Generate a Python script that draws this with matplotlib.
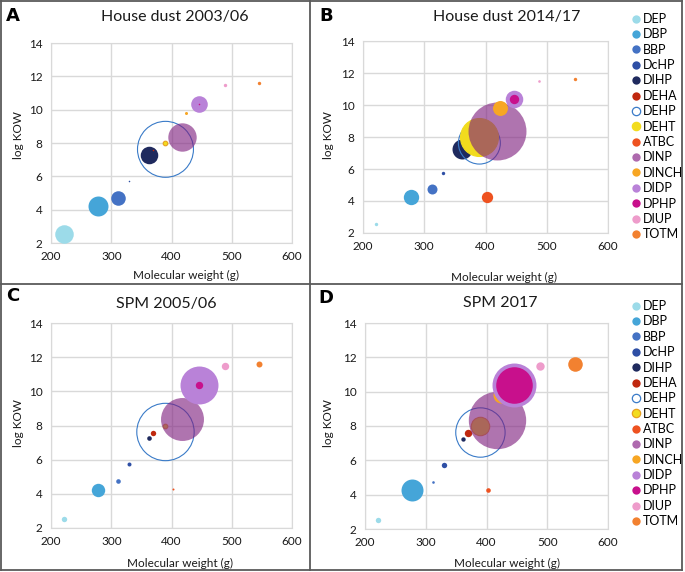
import numpy as np
import matplotlib
matplotlib.use('Agg')
import matplotlib.pyplot as plt
from matplotlib.lines import Line2D

plt.rcParams['font.family'] = ['Lato', 'DejaVu Sans']

# compounds, molecular weight (g) and log KOW
names = ['DEP', 'DBP', 'BBP', 'DcHP', 'DIHP', 'DEHA', 'DEHP', 'DEHT',
         'ATBC', 'DINP', 'DINCH', 'DIDP', 'DPHP', 'DIUP', 'TOTM']
mw = [222, 278, 312, 330, 362, 370, 390, 390, 402, 418, 424, 446, 446, 488, 546]
logkow = [2.54, 4.25, 4.73, 5.73, 7.27, 7.58, 7.62, 7.98, 4.27, 8.37, 9.8,
          10.36, 10.36, 11.5, 11.6]

# relative concentrations (bubble size values) per panel
conc_dust_0306 = [86, 100, 53, 0.6, 77, 0.6, 784, 5.3, 0, 202, 2.3, 69, 0.6, 2.9, 2.9]
conc_dust_1417 = [2.9, 59, 25, 2.9, 100, 0.6, 441, 361, 32, 841, 56, 77, 22, 1.7, 2.9]
conc_spm_0506 = [7.3, 45, 5.3, 4, 5.3, 7.3, 824, 5.3, 1, 462, 1.7, 361, 13.7, 13.7, 9]
conc_spm_2017 = [7.3, 121, 1.7, 7.3, 4.8, 13.7, 610, 85, 5.3, 824, 64, 484, 335, 17.6, 53]

colors = ['#9cdbe9', '#45a5d8', '#4472c4', '#2e4fa5', '#1f2a5e', '#c0280f',
          '#3a7bc8', '#f2dc1e', '#ee5220', '#7f1f7f', '#f7a623', '#b982d8',
          '#c8108c', '#ee9ccb', '#f28130']
dinp_legend = '#ae6aae'

W, H = 685, 572
fig = plt.figure(figsize=(W / 100, H / 100), dpi=100)


def fbox(l, t, r, b):
    return [l / W, 1 - b / H, (r - l) / W, (b - t) / H]


def panel(box, conc, title, tpos, letter, lpos, xlpos, ylpos, deht_edge):
    ax = fig.add_axes(fbox(*box))
    for i in range(len(names)):
        s = conc[i] * 2.07
        if names[i] == 'DEHP':
            ax.scatter(mw[i], logkow[i], s=s, facecolors='none',
                       edgecolors=colors[i], linewidths=0.8, zorder=3)
        elif names[i] == 'DEHT':
            ax.scatter(mw[i], logkow[i], s=s, color=colors[i],
                       edgecolors=deht_edge, linewidths=0.8, zorder=3)
        elif names[i] == 'DINP':
            ax.scatter(mw[i], logkow[i], s=s, color=colors[i], alpha=0.62,
                       linewidths=0, zorder=3)
        else:
            ax.scatter(mw[i], logkow[i], s=s, color=colors[i],
                       linewidths=0, zorder=3)
    ax.set_xlim(200, 600)
    ax.set_ylim(2, 14)
    ax.set_xticks([200, 300, 400, 500, 600])
    ax.set_yticks([2, 4, 6, 8, 10, 12, 14])
    ax.grid(True, color='#d9d9d9', linewidth=1)
    ax.set_axisbelow(True)
    for sp in ax.spines.values():
        sp.set_color('#d9d9d9')
    ax.tick_params(length=0, labelsize=8.5, colors='#1a1a1a', pad=6)
    fig.text(tpos[0] / W, 1 - tpos[1] / H, title, ha='center', va='center',
             fontsize=11.5, color='#1a1a1a')
    fig.text(lpos[0] / W, 1 - lpos[1] / H, letter, ha='left', va='center',
             fontsize=13, fontweight='bold', family='DejaVu Sans')
    fig.text(xlpos[0] / W, 1 - xlpos[1] / H, 'Molecular weight (g)',
             ha='center', va='center', fontsize=8.5, color='#1a1a1a')
    fig.text(ylpos[0] / W, 1 - ylpos[1] / H, 'log KOW', ha='center',
             va='center', rotation=90, fontsize=8.5, color='#1a1a1a')
    return ax


def add_legend(ax, top, deht_edge):
    handles = []
    for i in range(len(names)):
        if names[i] == 'DEHP':
            h = Line2D([], [], marker='o', linestyle='', markersize=6,
                       markerfacecolor='white', markeredgecolor=colors[i],
                       markeredgewidth=0.9, label=names[i])
        elif names[i] == 'DEHT':
            h = Line2D([], [], marker='o', linestyle='', markersize=6,
                       markerfacecolor=colors[i], markeredgecolor=deht_edge,
                       markeredgewidth=0.9, label=names[i])
        else:
            c = dinp_legend if names[i] == 'DINP' else colors[i]
            h = Line2D([], [], marker='o', linestyle='', markersize=6,
                       markerfacecolor=c, markeredgewidth=0,
                       label=names[i])
        handles.append(h)
    ax.legend(handles=handles, loc='upper left',
              bbox_to_anchor=(632 / W, 1 - top / H),
              bbox_transform=fig.transFigure, frameon=False, fontsize=9,
              handlelength=0.6, handletextpad=0.25, labelspacing=0.27,
              borderpad=0, borderaxespad=0)


panel((51, 43, 292, 243), conc_dust_0306, 'House dust 2003/06', (175, 17),
      'A', (6, 16), (186, 275), (18, 135), '#e8a020')
axb = panel((363, 41, 608, 233), conc_dust_1417, 'House dust 2014/17',
            (507, 17), 'B', (319, 16), (504, 277), (328, 135), colors[7])
panel((51, 323, 292, 528), conc_spm_0506, 'SPM 2005/06', (166, 304),
      'C', (6, 296), (180, 563), (18, 423), '#e8a020')
axd = panel((365, 323, 608, 529), conc_spm_2017, 'SPM 2017', (500, 303),
            'D', (318, 298), (507, 563), (328, 423), '#e8a020')
add_legend(axb, 13, colors[7])
add_legend(axd, 300, '#e8a020')

# panel borders
border = '#5a5a5a'
for (x0, y0, x1, y1) in [(1, 1, 682, 1), (1, 570, 682, 570), (1, 1, 1, 570),
                         (682, 1, 682, 570), (310, 1, 310, 570),
                         (1, 284, 682, 284)]:
    fig.add_artist(Line2D([x0 / W, x1 / W], [1 - y0 / H, 1 - y1 / H],
                          color=border, linewidth=1.3))

fig.savefig('out.png', dpi=100)
